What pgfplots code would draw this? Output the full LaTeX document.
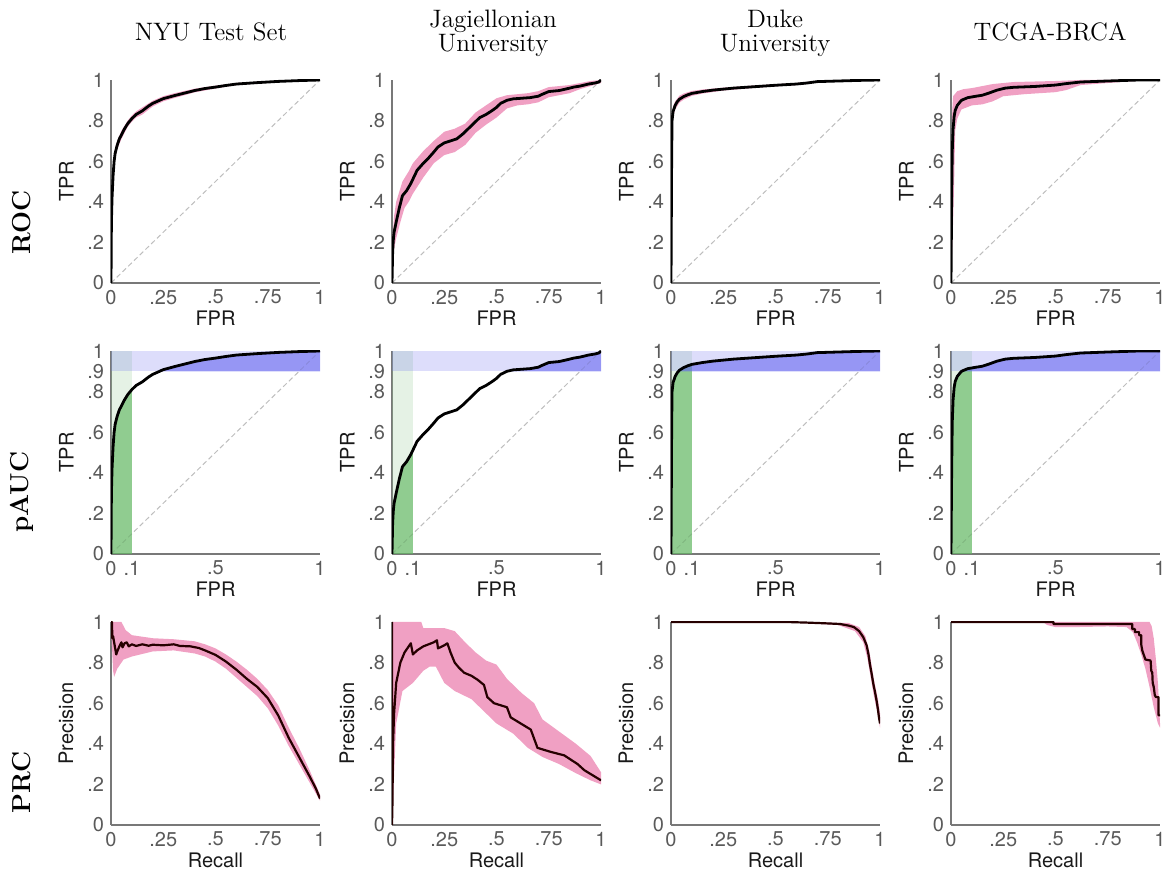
\documentclass[border=0pt]{standalone}
\usepackage{fontspec}
\usepackage{pgfplots}
\pgfplotsset{compat=1.18}
\usepackage{pgfplotstable}
\newfontfamily\hv{TeX Gyre Heros}

\definecolor{axgray}{RGB}{120,120,120}
\definecolor{tkgray}{RGB}{90,90,90}
\definecolor{lbblack}{RGB}{25,25,25}
\definecolor{band}{RGB}{240,160,195}
\definecolor{diag}{RGB}{190,190,190}
\definecolor{lgreen}{RGB}{150,205,150}
\definecolor{lblue}{RGB}{120,120,240}
\definecolor{dgreen}{RGB}{89,180,89}
\definecolor{dblue}{RGB}{103,103,241}

% ROC curves (FPR TPR)
\pgfplotstableread[row sep=\\]{x y\\
0 0\\ 0.002 0.3\\ 0.005 0.42\\ 0.01 0.53\\ 0.015 0.6\\ 0.02 0.64\\ 0.03 0.68\\ 0.04 0.71\\ 0.05 0.73\\ 0.065 0.76\\ 0.08 0.785\\ 0.1 0.81\\ 0.12 0.83\\ 0.15 0.848\\ 0.18 0.872\\ 0.2 0.885\\ 0.25 0.908\\ 0.3 0.922\\ 0.35 0.935\\ 0.4 0.948\\ 0.45 0.958\\ 0.5 0.965\\ 0.55 0.973\\ 0.6 0.98\\ 0.7 0.987\\ 0.8 0.993\\ 0.9 0.997\\ 1 1\\
}\nyuroc
\pgfplotstableread[row sep=\\]{x y\\
0 0\\ 0.003 0.15\\ 0.006 0.21\\ 0.01 0.25\\ 0.02 0.3\\ 0.035 0.37\\ 0.05 0.43\\ 0.07 0.455\\ 0.09 0.49\\ 0.12 0.555\\ 0.15 0.59\\ 0.17 0.61\\ 0.2 0.645\\ 0.22 0.67\\ 0.25 0.69\\ 0.28 0.7\\ 0.31 0.71\\ 0.34 0.735\\ 0.37 0.765\\ 0.4 0.795\\ 0.42 0.815\\ 0.45 0.83\\ 0.48 0.85\\ 0.5 0.865\\ 0.52 0.885\\ 0.55 0.9\\ 0.58 0.907\\ 0.62 0.91\\ 0.66 0.913\\ 0.7 0.92\\ 0.72 0.93\\ 0.75 0.943\\ 0.8 0.948\\ 0.83 0.955\\ 0.87 0.965\\ 0.9 0.97\\ 0.94 0.98\\ 0.97 0.985\\ 0.99 0.99\\ 1 1\\
}\jagroc
\pgfplotstableread[row sep=\\]{x y\\
0 0\\ 0.003 0.6\\ 0.005 0.8\\ 0.01 0.845\\ 0.02 0.875\\ 0.03 0.893\\ 0.04 0.905\\ 0.06 0.918\\ 0.08 0.927\\ 0.1 0.934\\ 0.15 0.943\\ 0.2 0.95\\ 0.25 0.955\\ 0.3 0.96\\ 0.4 0.967\\ 0.5 0.974\\ 0.6 0.98\\ 0.65 0.985\\ 0.7 0.992\\ 0.8 0.995\\ 0.9 0.998\\ 1 1\\
}\dukeroc
\pgfplotstableread[row sep=\\]{x y\\
0 0\\ 0.003 0.4\\ 0.006 0.65\\ 0.01 0.76\\ 0.015 0.82\\ 0.02 0.85\\ 0.03 0.875\\ 0.05 0.9\\ 0.08 0.913\\ 0.12 0.92\\ 0.15 0.925\\ 0.18 0.935\\ 0.22 0.95\\ 0.26 0.96\\ 0.3 0.964\\ 0.4 0.968\\ 0.5 0.975\\ 0.55 0.982\\ 0.62 0.99\\ 0.75 0.995\\ 0.9 1\\ 1 1\\
}\tcgaroc

% PR curves (Recall Precision)
\pgfplotstableread[row sep=\\]{x y\\
0 1\\ 0.005 1\\ 0.006 0.92\\ 0.01 0.93\\ 0.015 0.9\\ 0.02 0.87\\ 0.025 0.84\\ 0.03 0.855\\ 0.04 0.88\\ 0.05 0.9\\ 0.055 0.875\\ 0.065 0.895\\ 0.075 0.9\\ 0.085 0.88\\ 0.1 0.89\\ 0.12 0.882\\ 0.15 0.89\\ 0.18 0.883\\ 0.2 0.888\\ 0.25 0.885\\ 0.3 0.89\\ 0.33 0.882\\ 0.38 0.88\\ 0.42 0.872\\ 0.45 0.86\\ 0.5 0.838\\ 0.55 0.805\\ 0.6 0.765\\ 0.65 0.72\\ 0.7 0.68\\ 0.75 0.625\\ 0.8 0.54\\ 0.85 0.43\\ 0.9 0.335\\ 0.95 0.24\\ 0.98 0.18\\ 1 0.13\\
}\nyuprc
\pgfplotstableread[row sep=\\]{x y\\
0 1\\ 0 0\\ 0.002 0.1\\ 0.005 0.4\\ 0.01 0.55\\ 0.02 0.7\\ 0.04 0.8\\ 0.06 0.85\\ 0.08 0.88\\ 0.09 0.895\\ 0.1 0.84\\ 0.12 0.86\\ 0.15 0.88\\ 0.2 0.9\\ 0.215 0.91\\ 0.22 0.87\\ 0.25 0.885\\ 0.265 0.895\\ 0.28 0.85\\ 0.3 0.8\\ 0.32 0.775\\ 0.345 0.75\\ 0.38 0.735\\ 0.41 0.715\\ 0.44 0.69\\ 0.456 0.63\\ 0.488 0.6\\ 0.55 0.58\\ 0.568 0.53\\ 0.616 0.5\\ 0.664 0.47\\ 0.696 0.38\\ 0.76 0.36\\ 0.824 0.343\\ 0.888 0.3\\ 0.92 0.27\\ 0.952 0.25\\ 1 0.22\\
}\jagprc
\pgfplotstableread[row sep=\\]{x y\\
0 1\\ 0.55 1\\ 0.65 0.997\\ 0.75 0.993\\ 0.81 0.99\\ 0.85 0.982\\ 0.875 0.975\\ 0.9 0.955\\ 0.92 0.925\\ 0.936 0.885\\ 0.945 0.84\\ 0.952 0.79\\ 0.96 0.745\\ 0.968 0.695\\ 0.976 0.655\\ 0.984 0.61\\ 0.99 0.57\\ 0.995 0.53\\ 1 0.5\\
}\dukeprc
\pgfplotstableread[row sep=\\]{x y\\
0 1\\ 0.49 1\\ 0.49 0.99\\ 0.867 0.99\\ 0.867 0.965\\ 0.88 0.965\\ 0.88 0.95\\ 0.9 0.95\\ 0.9 0.935\\ 0.91 0.935\\ 0.91 0.89\\ 0.915 0.86\\ 0.925 0.83\\ 0.93 0.815\\ 0.955 0.81\\ 0.958 0.76\\ 0.963 0.75\\ 0.965 0.7\\ 0.97 0.68\\ 0.975 0.64\\ 0.98 0.63\\ 0.993 0.63\\ 0.993 0.54\\ 1 0.54\\
}\tcgaprc

\pgfplotsset{
  panel/.style={
    scale only axis, width=104.5pt, height=101.5pt,
    xmin=0, xmax=1, ymin=0, ymax=1,
    axis x line*=bottom, axis y line*=left,
    axis line style={-, draw=axgray, line width=0.7pt},
    major tick length=0pt,
    tick label style={font=\hv\fontsize{10}{11}\selectfont, text=tkgray},
    label style={font=\hv\fontsize{10}{11}\selectfont, text=lbblack},
    xlabel style={at={(axis description cs:0.5,0)}, anchor=north, yshift=-10.5pt},
    anchor=north west,
  },
  roc/.style={panel,
    xtick={0,0.25,0.5,0.75,1}, xticklabels={0,.25,.5,.75,1},
    ytick={0,0.2,0.4,0.6,0.8,1}, yticklabels={0,.2,.4,.6,.8,1},
    xlabel=FPR, ylabel=TPR},
  pauc/.style={panel,
    xtick={0,0.1,0.5,1}, xticklabels={0,.1,.5,1},
    ytick={0,0.2,0.4,0.6,0.8,0.9,1}, yticklabels={0,.2,.4,.6,.8,.9,1},
    xlabel=FPR, ylabel=TPR},
  prc/.style={panel,
    xtick={0,0.25,0.5,0.75,1}, xticklabels={0,.25,.5,.75,1},
    ytick={0,0.2,0.4,0.6,0.8,1}, yticklabels={0,.2,.4,.6,.8,1},
    xlabel=Recall, ylabel=Precision},
  mycurve/.style={black, line width=1.4pt, line join=round},
  prcurve/.style={black!85!red, line width=1.1pt, line join=round},
  bandfill/.style={fill=band, draw=none},
  diagline/.style={diag, line width=0.5pt, dash pattern=on 2.5pt off 1.5pt},
}

\begin{document}
\begin{tikzpicture}
\path[use as bounding box] (0,0) rectangle (585.5pt,438pt);

% ---------------- ROC row ----------------
\begin{axis}[roc, at={(55.5pt,398pt)}]
  \addplot[diagline] coordinates {(0,0) (1,1)};
  \addplot[bandfill] coordinates {(0,0)(0.002,0.34)(0.005,0.46)(0.01,0.56)(0.02,0.665)(0.03,0.7)(0.05,0.75)(0.08,0.8)(0.1,0.825)(0.12,0.845)(0.15,0.865)(0.2,0.898)(0.25,0.92)(0.3,0.934)(0.4,0.957)(0.5,0.972)(0.6,0.985)(0.7,0.991)(0.8,0.996)(1,1)
    (0.8,0.99)(0.7,0.983)(0.6,0.975)(0.5,0.958)(0.4,0.939)(0.3,0.91)(0.25,0.895)(0.2,0.87)(0.15,0.83)(0.12,0.815)(0.1,0.795)(0.08,0.77)(0.05,0.71)(0.03,0.66)(0.02,0.615)(0.01,0.5)(0.004,0.36)} -- cycle;
  \addplot[mycurve] table {\nyuroc};
\end{axis}

\begin{axis}[roc, at={(196pt,398pt)}]
  \addplot[diagline] coordinates {(0,0) (1,1)};
  \addplot[bandfill] coordinates {(0,0)(0.003,0.22)(0.01,0.33)(0.02,0.4)(0.05,0.5)(0.08,0.55)(0.1,0.59)(0.15,0.65)(0.2,0.7)(0.25,0.745)(0.3,0.76)(0.35,0.785)(0.4,0.84)(0.45,0.875)(0.5,0.91)(0.55,0.925)(0.6,0.93)(0.65,0.935)(0.7,0.945)(0.75,0.965)(0.8,0.97)(0.85,0.975)(0.9,0.985)(0.95,0.995)(1,1)
    (1,0.985)(0.95,0.97)(0.9,0.955)(0.85,0.935)(0.8,0.925)(0.75,0.915)(0.7,0.89)(0.65,0.88)(0.6,0.875)(0.55,0.86)(0.5,0.815)(0.45,0.78)(0.4,0.74)(0.35,0.68)(0.3,0.645)(0.25,0.63)(0.2,0.59)(0.15,0.52)(0.1,0.44)(0.08,0.4)(0.06,0.37)(0.04,0.3)(0.02,0.22)(0.01,0.17)(0.005,0.1)} -- cycle;
  \addplot[mycurve] table {\jagroc};
\end{axis}

\begin{axis}[roc, at={(335.5pt,398pt)}]
  \addplot[diagline] coordinates {(0,0) (1,1)};
  \addplot[bandfill] coordinates {(0,0)(0.002,0.62)(0.004,0.82)(0.01,0.87)(0.02,0.895)(0.04,0.922)(0.06,0.933)(0.1,0.946)(0.15,0.953)(0.25,0.962)(0.4,0.973)(0.5,0.979)(0.6,0.985)(0.7,0.995)(1,1)
    (0.7,0.988)(0.6,0.975)(0.5,0.969)(0.4,0.961)(0.25,0.948)(0.15,0.933)(0.1,0.922)(0.06,0.903)(0.04,0.888)(0.02,0.855)(0.01,0.82)(0.007,0.78)(0.004,0.58)} -- cycle;
  \addplot[mycurve] table {\dukeroc};
\end{axis}

\begin{axis}[roc, at={(475.5pt,398pt)}]
  \addplot[diagline] coordinates {(0,0) (1,1)};
  \addplot[bandfill] coordinates {(0,0)(0.003,0.5)(0.006,0.85)(0.01,0.92)(0.03,0.945)(0.06,0.955)(0.1,0.96)(0.15,0.97)(0.2,0.98)(0.3,0.99)(0.5,0.995)(0.62,1)(1,1)
    (0.88,0.995)(0.75,0.985)(0.62,0.975)(0.55,0.95)(0.5,0.94)(0.35,0.93)(0.25,0.92)(0.2,0.895)(0.15,0.88)(0.1,0.875)(0.05,0.855)(0.03,0.81)(0.02,0.75)(0.015,0.5)(0.01,0.3)} -- cycle;
  \addplot[mycurve] table {\tcgaroc};
\end{axis}

% ---------------- pAUC row ----------------
\begin{axis}[pauc, at={(55.5pt,262.5pt)}]
  \fill[lgreen, fill opacity=0.25] (axis cs:0,0) rectangle (axis cs:0.1,1);
  \fill[lblue, fill opacity=0.25] (axis cs:0,0.9) rectangle (axis cs:1,1);
  \addplot[diagline] coordinates {(0,0) (1,1)};
  \addplot[fill=dgreen, fill opacity=0.6, draw=none] coordinates {(0,0)(0.002,0.3)(0.005,0.42)(0.01,0.53)(0.015,0.6)(0.02,0.64)(0.03,0.68)(0.04,0.71)(0.05,0.73)(0.065,0.76)(0.08,0.785)(0.1,0.81)(0.1,0)} -- cycle;
  \addplot[fill=dblue, fill opacity=0.6, draw=none] coordinates {(0.233,0.9)(0.25,0.908)(0.3,0.922)(0.35,0.935)(0.4,0.948)(0.45,0.958)(0.5,0.965)(0.55,0.973)(0.6,0.98)(0.7,0.987)(0.8,0.993)(0.9,0.997)(1,1)(1,0.9)} -- cycle;
  \addplot[mycurve] table {\nyuroc};
\end{axis}

\begin{axis}[pauc, at={(196pt,262.5pt)}]
  \fill[lgreen, fill opacity=0.25] (axis cs:0,0) rectangle (axis cs:0.1,1);
  \fill[lblue, fill opacity=0.25] (axis cs:0,0.9) rectangle (axis cs:1,1);
  \addplot[diagline] coordinates {(0,0) (1,1)};
  \addplot[fill=dgreen, fill opacity=0.6, draw=none] coordinates {(0,0)(0.003,0.15)(0.006,0.21)(0.01,0.25)(0.02,0.3)(0.035,0.37)(0.05,0.43)(0.07,0.455)(0.09,0.49)(0.1,0.512)(0.1,0)} -- cycle;
  \addplot[fill=dblue, fill opacity=0.6, draw=none] coordinates {(0.55,0.9)(0.58,0.907)(0.62,0.91)(0.66,0.913)(0.7,0.92)(0.72,0.93)(0.75,0.943)(0.8,0.948)(0.83,0.955)(0.87,0.965)(0.9,0.97)(0.94,0.98)(0.97,0.985)(0.99,0.99)(1,1)(1,0.9)} -- cycle;
  \addplot[mycurve] table {\jagroc};
\end{axis}

\begin{axis}[pauc, at={(335.5pt,262.5pt)}]
  \fill[lgreen, fill opacity=0.25] (axis cs:0,0) rectangle (axis cs:0.1,1);
  \fill[lblue, fill opacity=0.25] (axis cs:0,0.9) rectangle (axis cs:1,1);
  \addplot[diagline] coordinates {(0,0) (1,1)};
  \addplot[fill=dgreen, fill opacity=0.6, draw=none] coordinates {(0,0)(0.003,0.6)(0.005,0.8)(0.01,0.845)(0.02,0.875)(0.03,0.893)(0.04,0.905)(0.06,0.918)(0.08,0.927)(0.1,0.934)(0.1,0)} -- cycle;
  \addplot[fill=dblue, fill opacity=0.6, draw=none] coordinates {(0.036,0.9)(0.04,0.905)(0.06,0.918)(0.08,0.927)(0.1,0.934)(0.15,0.943)(0.2,0.95)(0.25,0.955)(0.3,0.96)(0.4,0.967)(0.5,0.974)(0.6,0.98)(0.65,0.985)(0.7,0.992)(0.8,0.995)(0.9,0.998)(1,1)(1,0.9)} -- cycle;
  \addplot[mycurve] table {\dukeroc};
\end{axis}

\begin{axis}[pauc, at={(475.5pt,262.5pt)}]
  \fill[lgreen, fill opacity=0.25] (axis cs:0,0) rectangle (axis cs:0.1,1);
  \fill[lblue, fill opacity=0.25] (axis cs:0,0.9) rectangle (axis cs:1,1);
  \addplot[diagline] coordinates {(0,0) (1,1)};
  \addplot[fill=dgreen, fill opacity=0.6, draw=none] coordinates {(0,0)(0.003,0.4)(0.006,0.65)(0.01,0.76)(0.015,0.82)(0.02,0.85)(0.03,0.875)(0.05,0.9)(0.08,0.913)(0.1,0.917)(0.1,0)} -- cycle;
  \addplot[fill=dblue, fill opacity=0.6, draw=none] coordinates {(0.05,0.9)(0.08,0.913)(0.12,0.92)(0.15,0.925)(0.18,0.935)(0.22,0.95)(0.26,0.96)(0.3,0.964)(0.4,0.968)(0.5,0.975)(0.55,0.982)(0.62,0.99)(0.75,0.995)(0.9,1)(1,1)(1,0.9)} -- cycle;
  \addplot[mycurve] table {\tcgaroc};
\end{axis}

% ---------------- PRC row ----------------
\begin{axis}[prc, at={(55.5pt,127pt)}]
  \addplot[bandfill] coordinates {(0,1)(0.05,1)(0.07,0.96)(0.1,0.935)(0.2,0.92)(0.3,0.915)(0.4,0.905)(0.45,0.89)(0.5,0.87)(0.55,0.84)(0.6,0.805)(0.65,0.765)(0.7,0.72)(0.75,0.665)(0.8,0.59)(0.85,0.48)(0.9,0.38)(0.95,0.27)(1,0.15)
    (1,0.12)(0.95,0.21)(0.9,0.3)(0.85,0.39)(0.8,0.49)(0.75,0.575)(0.7,0.635)(0.65,0.68)(0.6,0.725)(0.55,0.77)(0.5,0.805)(0.45,0.83)(0.4,0.845)(0.3,0.86)(0.2,0.855)(0.1,0.83)(0.06,0.815)(0.03,0.77)(0.015,0.73)(0.01,0.76)(0.004,0.9)} -- cycle;
  \addplot[prcurve] table {\nyuprc};
\end{axis}

\begin{axis}[prc, at={(196pt,127pt)}]
  \addplot[bandfill] coordinates {(0,1)(0.14,1)(0.15,0.97)(0.25,0.97)(0.3,0.955)(0.35,0.9)(0.4,0.85)(0.45,0.81)(0.5,0.79)(0.55,0.72)(0.62,0.65)(0.68,0.6)(0.72,0.52)(0.8,0.46)(0.88,0.4)(0.95,0.34)(1,0.26)
    (1,0.2)(0.95,0.22)(0.88,0.255)(0.8,0.3)(0.72,0.335)(0.65,0.38)(0.58,0.45)(0.5,0.5)(0.45,0.55)(0.38,0.62)(0.3,0.66)(0.25,0.7)(0.21,0.78)(0.18,0.78)(0.15,0.76)(0.1,0.7)(0.05,0.66)(0.02,0.5)(0,0)} -- cycle;
  \addplot[prcurve] table {\jagprc};
\end{axis}

\begin{axis}[prc, at={(335.5pt,127pt)}]
  \addplot[bandfill] coordinates {(0.55,1)(0.85,0.995)(0.9,0.975)(0.93,0.93)(0.95,0.85)(0.97,0.72)(0.99,0.62)(1,0.55)
    (1,0.48)(0.99,0.54)(0.97,0.64)(0.955,0.73)(0.94,0.82)(0.92,0.9)(0.88,0.955)(0.8,0.985)} -- cycle;
  \addplot[prcurve] table {\dukeprc};
\end{axis}

\begin{axis}[prc, at={(475.5pt,127pt)}]
  \addplot[bandfill] coordinates {(0.44,1)(0.95,1)(0.96,0.98)(0.97,0.92)(0.98,0.82)(0.99,0.7)(0.995,0.6)(1,0.5)
    (1,0.48)(0.99,0.5)(0.97,0.58)(0.95,0.68)(0.93,0.77)(0.91,0.84)(0.89,0.9)(0.87,0.95)(0.84,0.975)(0.75,0.978)(0.6,0.975)(0.5,0.975)(0.46,0.985)} -- cycle;
  \addplot[prcurve] table {\tcgaprc};
\end{axis}

% ---------------- titles ----------------
\begin{scope}[every node/.style={font=\fontsize{12.6}{12}\selectfont, align=center}]
\node at (105.5pt,422pt) {NYU Test Set};
\node at (246.5pt,421.5pt) {Jagiellonian\\University};
\node at (387.5pt,421.5pt) {Duke\\University};
\node at (525pt,422pt) {TCGA-BRCA};
\end{scope}
\begin{scope}[every node/.style={font=\bfseries\fontsize{13}{14}\selectfont, rotate=90}]
\node at (11pt,327pt) {ROC};
\node at (11pt,192pt) {pAUC};
\node at (11pt,47pt) {PRC};
\end{scope}
\end{tikzpicture}
\end{document}
